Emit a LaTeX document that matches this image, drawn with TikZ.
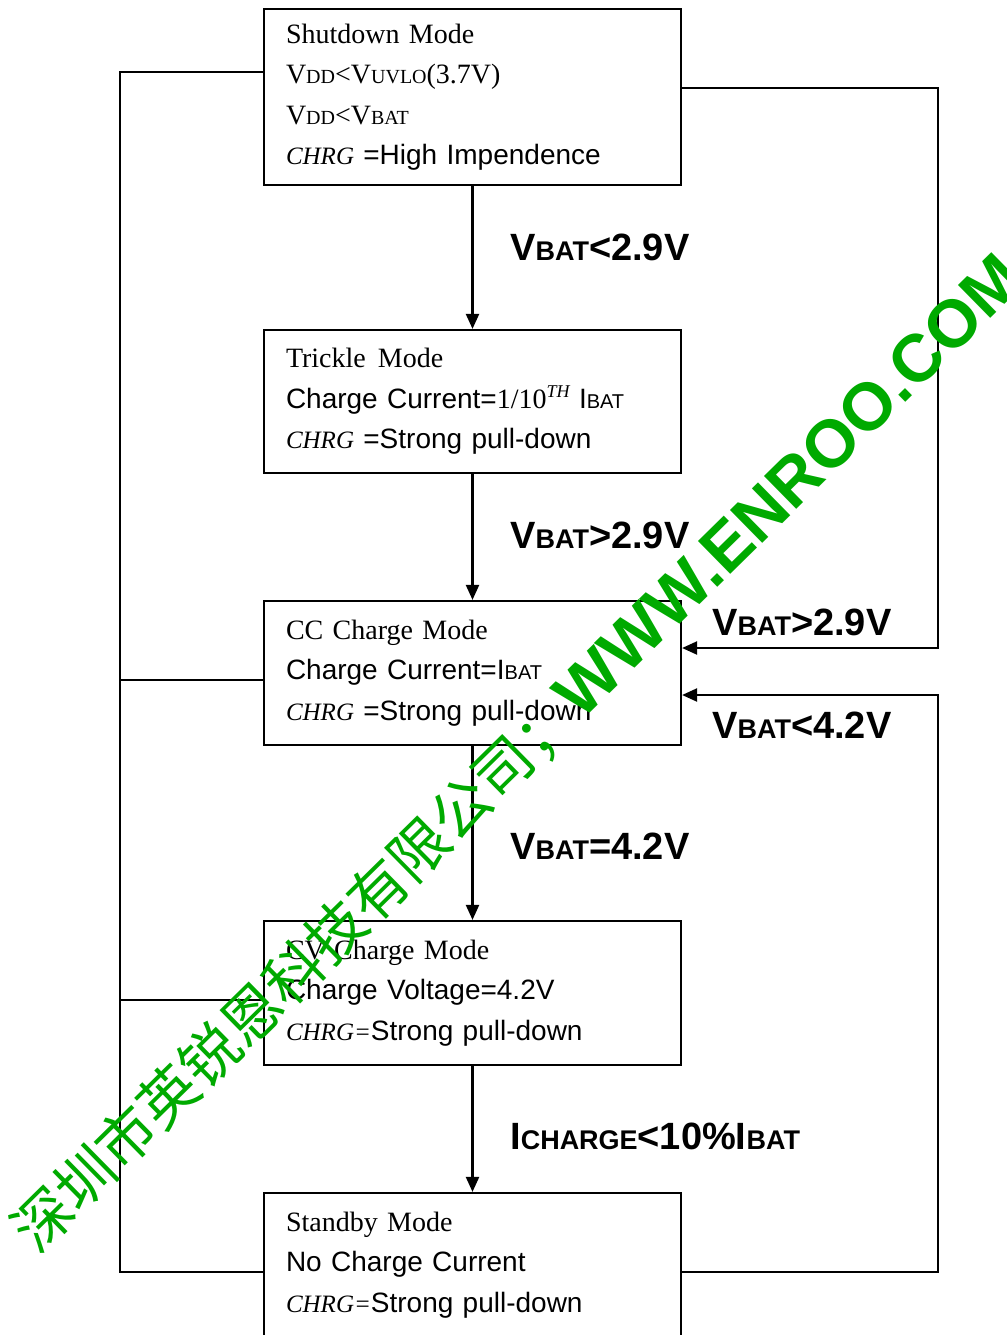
\documentclass[tikz,border=0pt]{standalone}
\usepackage{fontspec}
\usepackage{xcolor}
\usetikzlibrary{arrows.meta}
\setmainfont{Liberation Serif}
\setsansfont{Liberation Sans}
\newfontfamily\cjk{Noto Sans CJK SC}
\definecolor{wmgreen}{RGB}{0,170,0}
% fake small caps, box text and condition labels
\newcommand{\smc}[1]{{\fontsize{20}{20}\selectfont #1}}
\newcommand{\lsmc}[1]{{\fontsize{27}{27}\selectfont #1}}
\newcommand{\chrg}[1][]{{\fontsize{25}{25}\selectfont\itshape CHRG#1}}

\begin{document}
\begin{tikzpicture}[x=1pt, y=-1pt,
    modebox/.style={draw, line width=2.2pt, minimum width=417pt, text width=373pt,
        inner xsep=22pt, align=left, font=\fontsize{28}{40.5}\selectfont},
    cond/.style={inner sep=0pt, anchor=base west, font=\sffamily\bfseries\fontsize{38}{38}\selectfont},
    flow/.style={line width=2.2pt, -{Triangle[length=15pt, width=13pt]}},
    bus/.style={line width=2.2pt}]
    \useasboundingbox (0,0) rectangle (1006,1335);

    % Modes
    \node[modebox, minimum height=176pt] (shut) at (472.5,97) {Shutdown Mode\\
        V\smc{DD}<V\smc{UVLO}(3.7V)\\
        V\smc{DD}<V\smc{BAT}\\
        \chrg{} {\sffamily=High Impendence}};
    \node[modebox, minimum height=143pt] (trickle) at (472.5,401.5) {Trickle\hspace{12pt}Mode\\
        {\sffamily Charge Current=}1/10\raisebox{11pt}{\fontsize{18}{18}\selectfont\itshape TH} {\sffamily I\smc{BAT}}\\
        \chrg{} {\sffamily=Strong pull-down}};
    \node[modebox, minimum height=144pt] (cc) at (472.5,673) {CC Charge Mode\\
        {\sffamily Charge Current=I\smc{BAT}}\\
        \chrg{} {\sffamily=Strong pull-down}};
    \node[modebox, minimum height=144pt] (cv) at (472.5,993) {CV Charge Mode\\
        {\sffamily Charge Voltage=4.2V}\\
        \chrg[=]{\sffamily Strong pull-down}};
    \node[modebox, minimum height=144pt] (standby) at (472.5,1265) {Standby Mode\\
        {\sffamily No Charge Current}\\
        \chrg[=]{\sffamily Strong pull-down}};

    % Main flow
    \draw[flow] (shut) -- (trickle);
    \draw[flow] (trickle) -- (cc);
    \draw[flow] (cc) -- (cv);
    \draw[flow] (cv) -- (standby);

    % Left bus
    \draw[bus] ([yshift=25pt]shut.west) -- ++(-143,0) |- ([yshift=-7pt]standby.west);
    \draw[bus] ([yshift=-7pt]cc.west) -- ++(-143,0);
    \draw[bus] ([yshift=-7pt]cv.west) -- ++(-143,0);

    % Return paths
    \draw[flow] ([yshift=9pt]shut.east) -- ++(256,0) |- ([yshift=25pt]cc.east);
    \draw[flow] ([yshift=-7pt]standby.east) -- ++(256,0) |- ([yshift=-22pt]cc.east);

    % Conditions
    \node[cond] (c1) at (510,260) {V\lsmc{BAT}<2.9V};
    \node[cond] (c2) at (510,548) {V\lsmc{BAT}>2.9V};
    \node[cond] (c3) at (712,635) {V\lsmc{BAT}>2.9V};
    \node[cond] (c4) at (712,738) {V\lsmc{BAT}<4.2V};
    \node[cond] (c5) at (510,859) {V\lsmc{BAT}=4.2V};
    \node[cond] (c6) at (510,1149) {I\lsmc{CHARGE}<10\%I\lsmc{BAT}};

    % Watermark
    \node[inner sep=0pt, anchor=base west, rotate=44.5, text=wmgreen] (wm) at (37,1256)
        {\cjk\fontsize{58.7}{58.7}\selectfont 深圳市英锐恩科技有限公司；{\sffamily\bfseries\fontsize{67}{67}\selectfont WWW.ENROO.COM}};
\end{tikzpicture}
\end{document}
